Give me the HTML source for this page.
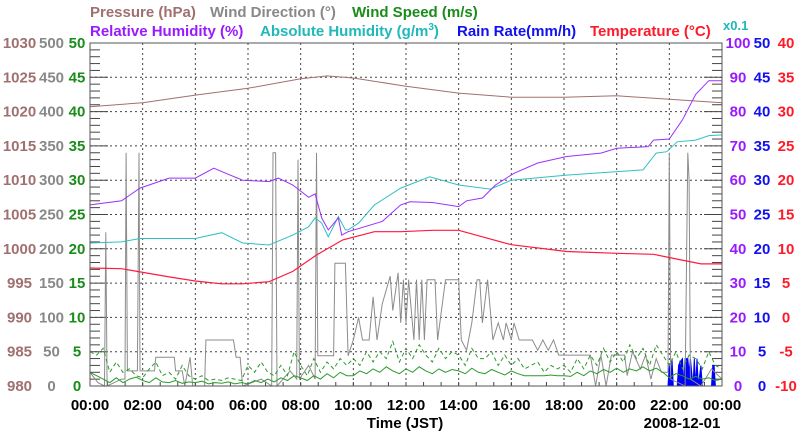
<!DOCTYPE html>
<html><head><meta charset="utf-8">
<style>
html,body{margin:0;padding:0;background:#fff;}
svg{display:block;font-family:"Liberation Sans",sans-serif;font-weight:bold;}
</style></head>
<body>
<svg id="chart" width="800" height="434" viewBox="0 0 800 434" xmlns="http://www.w3.org/2000/svg">
<g font-size="15">
<text x="90" y="17" fill="#a07070">Pressure (hPa)</text>
<text x="210" y="17" fill="#888">Wind Direction (°)</text>
<text x="352" y="17" fill="#1a8c1a">Wind Speed (m/s)</text>
<text x="90" y="36" fill="#9a1aff">Relative Humidity (%)</text>
<text x="260" y="36" fill="#20b8b8">Absolute Humidity (g/m<tspan font-size="10" dy="-6">3</tspan><tspan dy="6">)</tspan></text>
<text x="457" y="36" fill="#1010f0">Rain Rate(mm/h)</text>
<text x="590" y="36" fill="#ff1a2a">Temperature (°C)</text>
<text x="723" y="30" fill="#20b8b8" font-size="13">x0.1</text>
</g>
<g id="grid"></g>
<g id="ticks"></g>
<g id="series"></g>
<rect x="90" y="43" width="632" height="343" fill="none" stroke="#555" stroke-width="1"/>
<g id="labels" font-size="15"></g>
<text x="405" y="428" font-size="15" text-anchor="middle" fill="#000">Time (JST)</text>
<text x="682" y="428" font-size="15" text-anchor="middle" fill="#000">2008-12-01</text>
</svg>
<script>
const xTickLabels=["00:00","02:00","04:00","06:00","08:00","10:00","12:00","14:00","16:00","18:00","20:00","22:00","00:00"];
const pressureTicks=[980,985,990,995,1000,1005,1010,1015,1020,1025,1030];
const windDirTicks=[0,50,100,150,200,250,300,350,400,450,500];
const windSpeedTicks=[0,5,10,15,20,25,30,35,40,45,50];
const rhTicks=[0,10,20,30,40,50,60,70,80,90,100];
const rainTicks=[0,5,10,15,20,25,30,35,40,45,50];
const tempTicks=[-10,-5,0,5,10,15,20,25,30,35,40];

const pressureTimes=[0,2,4,6,8,9,10,12,14,16,18,20,22,24];
const pressureValues=[1020.7,1021.3,1022.4,1023.4,1024.8,1025.2,1024.9,1023.7,1022.7,1022.1,1022.1,1022.3,1021.8,1021.3];
const tempTimes=[0,1.2,3,4,5,5.8,6.8,7.7,8.6,9.6,10.8,11.8,13,14,16,18.1,20,21.4,22.3,23.2,24];
const tempValues=[7.2,7.1,5.9,5.3,4.9,4.9,5.2,6.7,9.1,11.3,12.5,12.5,12.7,12.7,10.6,9.6,9.35,9.2,8.5,7.8,7.8];
const rhTimes=[0,1.2,1.9,3,4,4.7,5,5.8,6.8,7.15,7.7,8.3,8.55,8.8,9.05,9.43,9.56,9.8,11.1,11.8,12.15,13,14,14.3,14.9,15.4,16.1,17,18.1,19.4,20,21.2,21.4,22,22.5,23,23.5,24];
const rhValues=[52.8,54,57.7,60.6,60.6,63.5,62.5,60,59.6,60.6,58.6,55,56,49,45.5,49,44,45,48,52.8,53.7,53.5,52.3,54,54.8,58.6,62,65,66.9,67.9,69.3,69.8,71.7,72,77.6,85,89,89];
const ahTimes=[0,1.2,1.9,3,4,5,5.8,6.8,7.7,8.3,8.55,8.8,9.05,9.43,9.7,9.8,10.2,10.8,11.8,12.9,14,15.2,16,18.1,19.4,21,21.5,21.9,22.3,23,23.5,24];
const ahValues=[4.17,4.2,4.3,4.3,4.3,4.47,4.17,4.11,4.4,4.64,4.9,4.75,4.35,4.94,4.55,4.55,4.75,5.28,5.77,6.1,5.86,5.74,6.0,6.15,6.22,6.3,6.79,6.83,7.12,7.17,7.3,7.32];
const windDirTimes=[0,0.3,0.55,0.6,0.65,1.2,1.33,1.37,1.42,1.8,1.86,1.9,2.45,2.5,3.2,3.25,3.5,3.6,3.8,3.9,4.35,4.4,5.45,5.55,5.7,5.8,6.5,6.9,6.95,7.05,7.1,7.6,7.85,7.9,7.95,8.3,8.55,8.6,8.65,9.25,9.3,9.7,9.8,10,10.2,10.35,10.6,10.75,10.9,11.1,11.4,11.5,11.7,11.8,11.9,12,12.1,12.3,12.4,12.5,12.6,12.7,12.8,13.1,13.2,13.5,14,14.1,14.3,14.5,14.7,14.8,14.9,15.1,15.3,15.5,15.7,15.8,16,16.1,16.3,16.8,17,17.2,17.4,17.6,17.8,19,19.2,19.4,19.6,19.8,20.3,20.4,20.6,20.9,21.1,21.3,21.5,21.7,21.95,22,22.05,22.6,22.7,22.75,22.8,23.2,23.6,24];
const windDirValues=[20,5,0,224,0,10,10,340,22,22,340,22,22,42,42,22,22,0,42,0,0,67,67,42,42,0,10,0,340,340,0,22,10,330,10,30,10,340,44,44,179,179,44,67,100,67,67,130,67,120,160,110,165,92,155,92,155,67,155,67,155,67,155,155,67,155,155,67,52,92,155,155,92,155,67,92,67,92,67,92,67,67,52,67,52,67,45,45,0,45,0,45,45,15,50,25,45,10,40,20,20,340,10,0,340,300,10,0,25,10];
const windMeanValues=[2,1.5,1,0.5,1.2,0.5,1,1.3,0.8,0.5,1.2,0.6,0.5,0.8,0.4,0.6,0.5,0.7,0.3,0.5,0.4,0.6,0.3,0.5,0.3,0.8,0.5,1.0,0.6,1.2,0.8,1.5,1.2,0.8,1.5,1.0,1.8,1.2,2.0,1.5,1.5,2.2,1.8,2.5,2.0,2.8,2.2,1.8,2.5,2.0,2.8,2.2,1.8,2.5,2.0,2.4,2.2,1.8,2.6,2.0,1.8,2.4,2.0,1.6,2.2,1.8,1.5,1.5,1.5,1.5,1.6,1.5,1.5,1.4,2.0,1.5,2.2,1.8,2.4,2.0,2.6,2.0,2.5,2.2,2.8,2.2,2.6,2.0,1.2,1.8,1.5,1.0,1.4,1.0,1.2,0.8,1.0];
const windGustValues=[5,4.5,5.5,2,3.5,2,2.5,1.5,1.2,2.5,3.5,1.5,2,1,3,1.5,1,1.5,0.8,1,0.8,1.2,1,0.8,3,2,3.5,2,1.5,3,1.5,5,3,1.5,4,2,3.5,2.5,4,3,4,3,5,3.5,5,4,6.5,3.5,5.5,4,6,4.5,3.5,5.5,4,5,4.5,3,5.5,4,4,5,3,4.5,3,4,2.5,3,3.5,2,3,2.5,3,2,4,2.5,4.5,3,5.5,3.5,5,3.5,6,4,5.5,3,6,4.5,3,5,2.5,4.5,4,2.5,5,3,2.5];
const rainTimes=[0,21.95,22.0,22.05,22.1,22.15,22.3,22.35,22.4,22.5,22.55,22.6,22.7,22.75,22.8,22.9,22.95,23.0,23.05,23.1,23.2,23.25,23.3,23.6,23.65,23.7,23.75,23.8,24];
const rainValues=[0,0,3,0,4,0,0,3,3.5,4,0,4,4,2,4,0,4,0,4,0,3,0,0,0,3,3,0,0,0];

const NS="http://www.w3.org/2000/svg";
const X0=90,X1=722,Y0=386,Y1=43;
function xs(t){return X0+t/24*(X1-X0);}
function ys(v,min,max){return Y0-(v-min)/(max-min)*(Y0-Y1);}
function mk(tag,attrs,parent){const e=document.createElementNS(NS,tag);for(const k in attrs)e.setAttribute(k,attrs[k]);parent.appendChild(e);return e;}
const grid=document.getElementById('grid'),ticks=document.getElementById('ticks'),series=document.getElementById('series'),labels=document.getElementById('labels');

for(let k=1;k<10;k++){const y=Y0-k*(Y0-Y1)/10;
 const l=mk('line',{x1:X0,x2:X1,y1:y,y2:y,stroke:'#444','stroke-dasharray':'2,3','stroke-width':1},grid);
 
 }
for(let k=1;k<12;k++){const x=xs(k*2);
 const l=mk('line',{x1:x,x2:x,y1:Y1,y2:Y0,stroke:'#444','stroke-dasharray':'2,3','stroke-width':1},grid);
 
 }
for(let k=0;k<=50;k++){const y=Y0-k*(Y0-Y1)/50;const len=(k%5===0)?18:10;
 const a=mk('line',{x1:X0,x2:X0+len,y1:y,y2:y,stroke:'#444','stroke-width':1},ticks);
 
 
 const b=mk('line',{x1:X1-len,x2:X1,y1:y,y2:y,stroke:'#444','stroke-width':1},ticks);
 
 }
for(let k=1;k<36;k++){const x=xs(k*2/3);
 const t=mk('line',{x1:x,x2:x,y1:Y0-4,y2:Y0,stroke:'#444','stroke-width':1},ticks);
 
 }

function lbl(txt,x,y,color,name){const t=mk('text',{x:x,y:y,fill:color,'text-anchor':'middle'},labels);t.textContent=txt;
 
 }
for(let i=0;i<11;i++){const y=ys(i,0,10)+5;
 lbl(pressureTicks[i],19.5,y,'#a07070','pressure-tick-label');
 lbl(windDirTicks[i],51.5,y,'#888','wind-direction-tick-label');
 lbl(windSpeedTicks[i],77,y,'#1a8c1a','wind-speed-tick-label');
 lbl(rhTicks[i],738,y,'#9a1aff','humidity-tick-label');
 lbl(rainTicks[i],762,y,'#1010f0','rain-tick-label');
 lbl(tempTicks[i],786,y,'#ff1a2a','temperature-tick-label');}
xTickLabels.forEach((s,i)=>lbl(s,xs(i*2),410,'#000','x-tick-label'));

function path(times,vals,min,max){return times.map((t,i)=>(i?'L':'M')+xs(t).toFixed(1)+','+ys(vals[i],min,max).toFixed(1)).join('');}
const qTimes=windMeanValues.map((_,i)=>i*0.25);

const rain=mk('path',{d:path(rainTimes,rainValues,0,50)+'Z',fill:'#0000ff',stroke:'#0000ff','stroke-width':1},series);


const wd=mk('path',{d:path(windDirTimes,windDirValues,0,500),fill:'none',stroke:'#8c8c8c','stroke-width':1},series);


const wg=mk('path',{d:path(qTimes,windGustValues,0,50),fill:'none',stroke:'#2a9a2a','stroke-width':1,'stroke-dasharray':'4,3'},series);


const wm=mk('path',{d:path(qTimes,windMeanValues,0,50),fill:'none',stroke:'#2a9a2a','stroke-width':1},series);


const pr=mk('path',{d:path(pressureTimes,pressureValues,980,1030),fill:'none',stroke:'#a07070','stroke-width':1},series);


const ah=mk('path',{d:path(ahTimes,ahValues,0,10),fill:'none',stroke:'#30c0c0','stroke-width':1},series);


const rh=mk('path',{d:path(rhTimes,rhValues,0,100),fill:'none',stroke:'#9a30ff','stroke-width':1},series);


const tp=mk('path',{d:path(tempTimes,tempValues,-10,40),fill:'none',stroke:'#ff1a40','stroke-width':1.2},series);


</script>
</body></html>
